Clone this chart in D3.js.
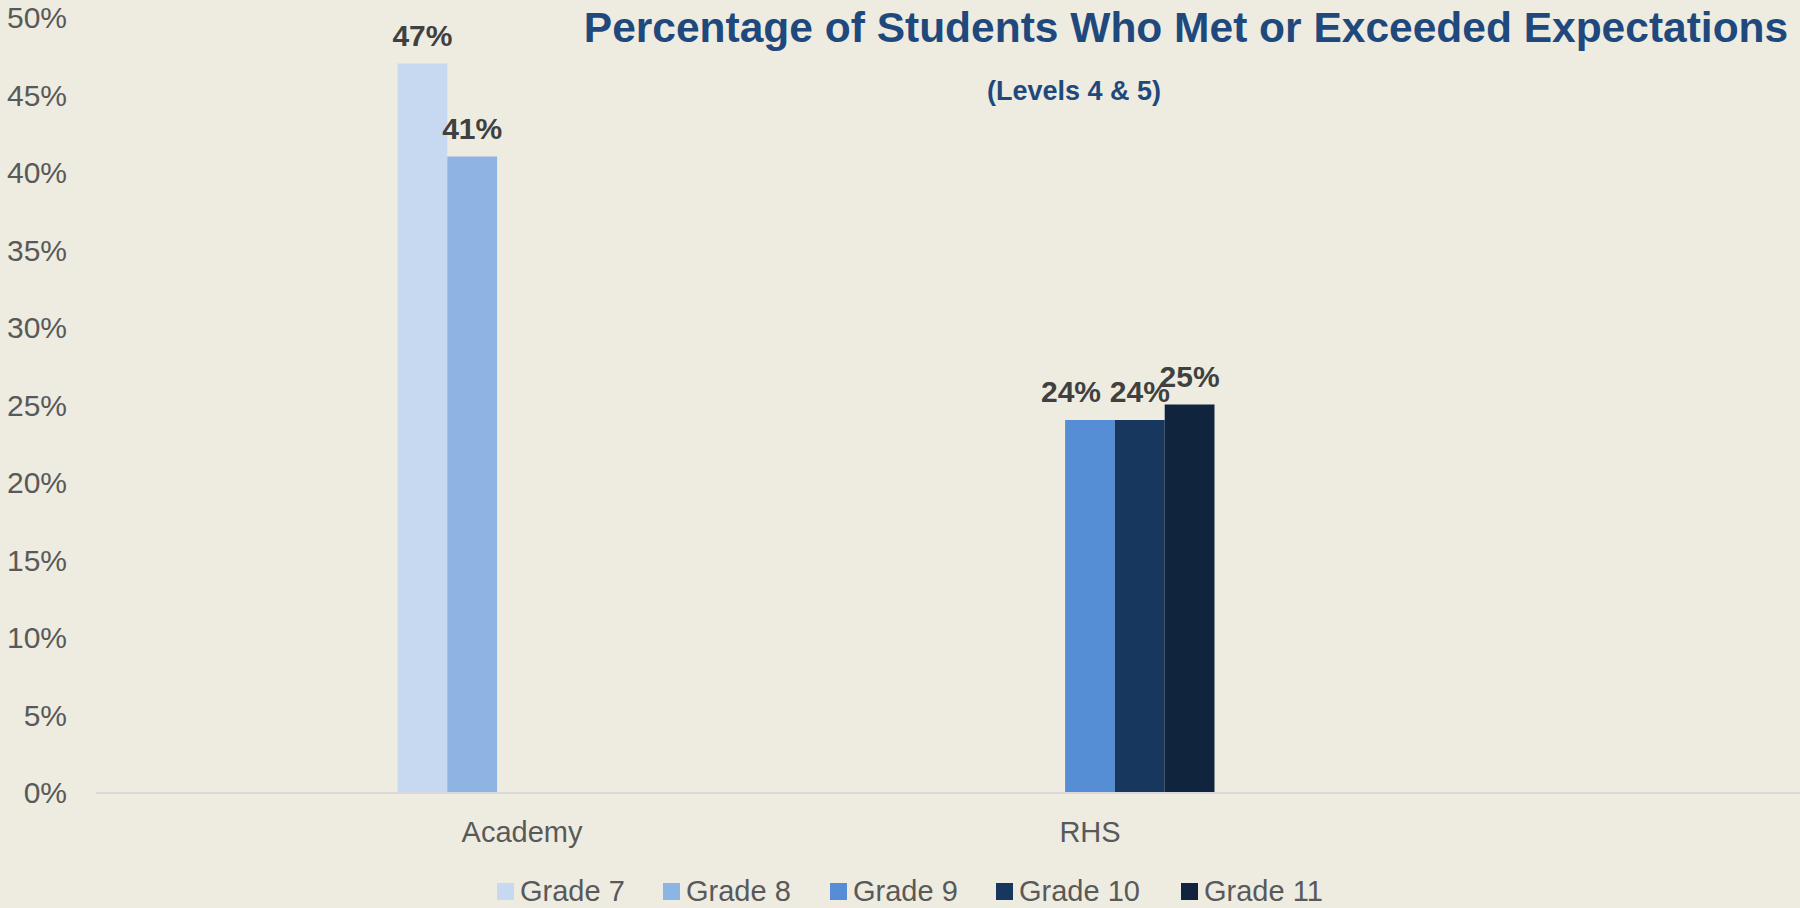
<!DOCTYPE html>
<html>
<head>
<meta charset="utf-8">
<script src="https://cdn.jsdelivr.net/npm/d3@7"></script>
<style>
  html, body { margin: 0; padding: 0; background: #eeece1; }
  svg { display: block; font-family: "Liberation Sans", Arial, sans-serif; }
</style>
</head>
<body>
<svg id="vis" width="1800" height="908"></svg>
<script>
const schools = ["Academy", "RHS"];
const grades = ["Grade 7", "Grade 8", "Grade 9", "Grade 10", "Grade 11"];
const colors = ["#c6d9f1", "#8eb4e3", "#558ed5", "#17375e", "#10243e"];
// percent met or exceeded, null = no bar
const academyValues = [47, 41, null, null, null];
const rhsValues = [null, null, 24, 24, 25];
const yTicks = [0, 5, 10, 15, 20, 25, 30, 35, 40, 45, 50];

const svg = d3.select("#vis");

const data = [];
schools.forEach((s, i) => {
  const vals = i === 0 ? academyValues : rhsValues;
  grades.forEach((g, j) => {
    if (vals[j] != null) data.push({ school: s, grade: g, value: vals[j] });
  });
});

// SCALES
const y = d3.scaleLinear().domain([0, 50]).range([792, 17]);
const x0 = d3.scaleBand().domain(schools).range([238, 1374]);
const groupW = 249;
const x1 = d3.scaleBand().domain(grades).range([0, groupW]);
const color = d3.scaleOrdinal().domain(grades).range(colors);
const groupX = s => x0(s) + (x0.bandwidth() - groupW) / 2;

// y tick labels
svg.append("g")
  .selectAll("text")
  .data(yTicks)
  .join("text")
  .attr("x", 67)
  .attr("y", d => y(d) + 11)
  .attr("text-anchor", "end")
  .attr("font-size", 30)
  .attr("fill", "#595959")
  .text(d => d + "%");

// bars
svg.append("g")
  .selectAll("rect")
  .data(data)
  .join("rect")
  .attr("x", d => groupX(d.school) + x1(d.grade))
  .attr("y", d => y(d.value))
  .attr("width", x1.bandwidth())
  .attr("height", d => y(0) - y(d.value))
  .attr("fill", d => color(d.grade));

// baseline
svg.append("line")
  .attr("x1", 96).attr("x2", 1800)
  .attr("y1", y(0) + 1).attr("y2", y(0) + 1)
  .attr("stroke", "#d9d9d9")
  .attr("stroke-width", 2);

// data labels
svg.append("g")
  .selectAll("text")
  .data(data)
  .join("text")
  .attr("x", d => groupX(d.school) + x1(d.grade) + x1.bandwidth() / 2 - (d.grade === "Grade 9" ? 19 : 0))
  .attr("y", d => y(d.value) - 18)
  .attr("text-anchor", "middle")
  .attr("font-size", 30)
  .attr("font-weight", "bold")
  .attr("fill", "#404040")
  .text(d => d.value + "%");

// category labels
svg.append("g")
  .selectAll("text")
  .data(schools)
  .join("text")
  .attr("x", d => x0(d) + x0.bandwidth() / 2)
  .attr("y", 842)
  .attr("text-anchor", "middle")
  .attr("font-size", 29)
  .attr("fill", "#595959")
  .text(d => d);

// title
svg.append("text")
  .attr("x", 1186)
  .attr("y", 42)
  .attr("text-anchor", "middle")
  .attr("font-size", 42.5)
  .attr("font-weight", "bold")
  .attr("fill", "#1f497d")
  .text("Percentage of Students Who Met or Exceeded Expectations");

svg.append("text")
  .attr("x", 1074)
  .attr("y", 100)
  .attr("text-anchor", "middle")
  .attr("font-size", 27)
  .attr("font-weight", "bold")
  .attr("fill", "#1f497d")
  .text("(Levels 4 & 5)");

// legend
const legendX = [497, 663, 830, 996, 1181];
const legend = svg.append("g")
  .selectAll("g")
  .data(grades)
  .join("g")
  .attr("transform", (d, i) => `translate(${legendX[i]},883)`);
legend.append("rect")
  .attr("width", 17).attr("height", 17)
  .attr("fill", d => color(d));
legend.append("text")
  .attr("x", 23)
  .attr("y", 18)
  .attr("font-size", 29)
  .attr("fill", "#595959")
  .text(d => d);
</script>
</body>
</html>
